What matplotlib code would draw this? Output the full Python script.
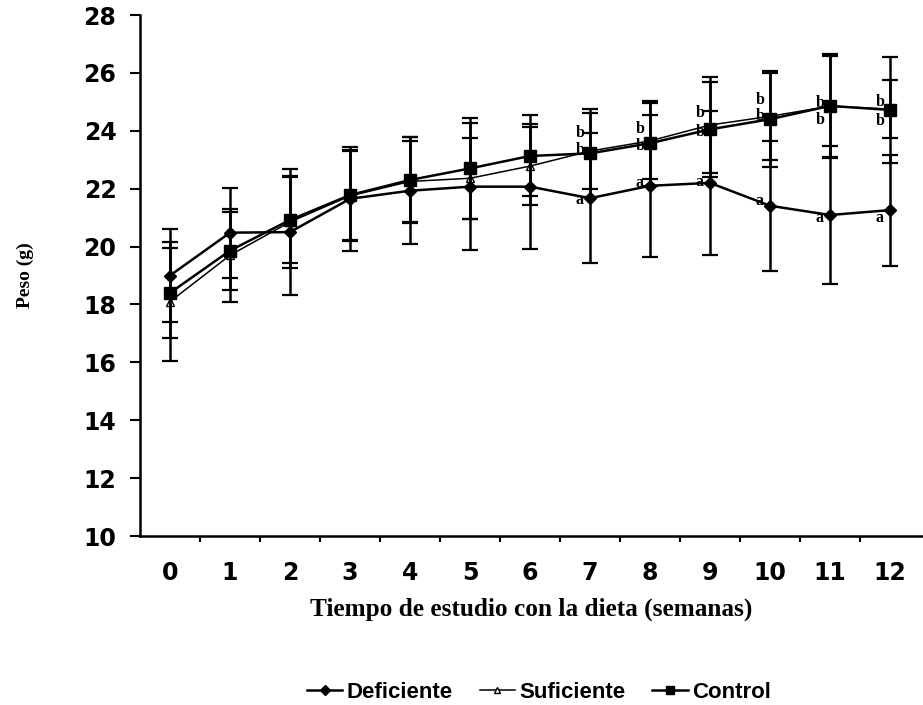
import matplotlib.pyplot as plt
from matplotlib.lines import Line2D
import numpy as np

# Peso promedio (g) por semana y desviacion estandar de cada grupo
semanas = np.arange(0, 13)
deficiente = [19.0, 20.48, 20.5, 21.65, 21.93, 22.07, 22.07, 21.67, 22.1, 22.2, 21.41, 21.09, 21.26]
suficiente = [18.1, 19.7, 20.85, 21.75, 22.25, 22.36, 22.78, 23.3, 23.65, 24.2, 24.5, 24.85, 24.75]
control = [18.4, 19.86, 20.92, 21.78, 22.3, 22.7, 23.13, 23.22, 23.57, 24.05, 24.4, 24.86, 24.72]
de_deficiente = [1.6, 1.55, 2.17, 1.8, 1.85, 2.2, 2.15, 2.25, 2.45, 2.5, 2.25, 2.4, 1.92]
de_suficiente = [2.05, 1.6, 1.6, 1.55, 1.4, 1.4, 1.35, 1.3, 1.3, 1.65, 1.5, 1.75, 1.0]
de_control = [1.55, 1.35, 1.49, 1.55, 1.5, 1.75, 1.4, 1.52, 1.47, 1.65, 1.65, 1.8, 1.82]

# letras de significancia (semanas 7 a 12)
semanas_sig = [7, 8, 9, 10, 11, 12]
letra_def = ['a'] * 6
letra_suf = ['b'] * 6
letra_con = ['b'] * 6

fig = plt.figure(figsize=(9.23, 7.05), dpi=100)
ax = fig.add_axes([0.1517, 0.2397, 0.8483, 0.739])

kw = dict(color='black', lw=1.8, elinewidth=1.8, capsize=6, capthick=1.6)
ax.errorbar(semanas, deficiente, yerr=de_deficiente, marker='D', ms=6, zorder=3, **kw)
ax.errorbar(semanas, suficiente, yerr=de_suficiente, marker='^', ms=6,
            mfc='white', mec='black', lw=1.1, elinewidth=1.8, capsize=6,
            capthick=1.6, color='black', zorder=2)
ax.errorbar(semanas, control, yerr=de_control, marker='s', ms=8, zorder=4, **kw)

# letras junto a los puntos
letra_kw = dict(fontsize=11.5, fontweight='bold', family='Liberation Serif',
                ha='center', va='center', zorder=5)
dy_suf = [0.62, 0.42, 0.4, 0.58, 0.1, 0.25]
dy_con = [0.12, -0.1, -0.08, 0.1, -0.5, -0.38]
dy_def = [-0.07, 0.1, 0.03, 0.17, -0.12, -0.29]
for i, s in enumerate(semanas_sig):
    ax.text(s - 0.17, suficiente[s] + dy_suf[i], letra_suf[i], **letra_kw)
    ax.text(s - 0.17, control[s] + dy_con[i], letra_con[i], **letra_kw)
    ax.text(s - 0.17, deficiente[s] + dy_def[i], letra_def[i], **letra_kw)

ax.set_xlim(-0.5, 12.55)
ax.set_ylim(10, 28)
ax.set_yticks(np.arange(10, 29, 2))
ax.set_xticks(semanas)
ax.set_xticks(np.arange(0.5, 12.5, 1), minor=True)
ax.tick_params(axis='x', which='major', length=0, pad=18)
ax.tick_params(axis='x', which='minor', length=4, width=1.5, direction='out')
ax.tick_params(axis='y', length=7, width=1.5, direction='out', pad=10)
for lab in ax.get_xticklabels() + ax.get_yticklabels():
    lab.set_fontfamily('DejaVu Sans')
    lab.set_fontweight('bold')
    lab.set_fontsize(17)

for side in ['top', 'right']:
    ax.spines[side].set_visible(False)
for side in ['left', 'bottom']:
    ax.spines[side].set_linewidth(1.8)

ax.set_xlabel('Tiempo de estudio con la dieta (semanas)', family='Liberation Serif',
              fontweight='bold', fontsize=18.2, labelpad=9)
ax.set_ylabel('Peso (g)', family='Liberation Serif', fontweight='bold',
              fontsize=14, labelpad=36)

handles = [
    Line2D([], [], color='black', lw=1.8, marker='D', ms=5),
    Line2D([], [], color='black', lw=1.1, marker='^', ms=5, mfc='white'),
    Line2D([], [], color='black', lw=1.8, marker='s', ms=6),
]
labels = ['Deficiente', 'Suficiente', 'Control']
fig.legend(handles, labels, loc='center', bbox_to_anchor=(0.584, 0.018), ncol=3,
           frameon=False, handlelength=1.6, columnspacing=1.2, handletextpad=0.2,
           prop={'family': 'Liberation Sans', 'weight': 'bold', 'size': 16})

fig.savefig('out.png', dpi=100)
